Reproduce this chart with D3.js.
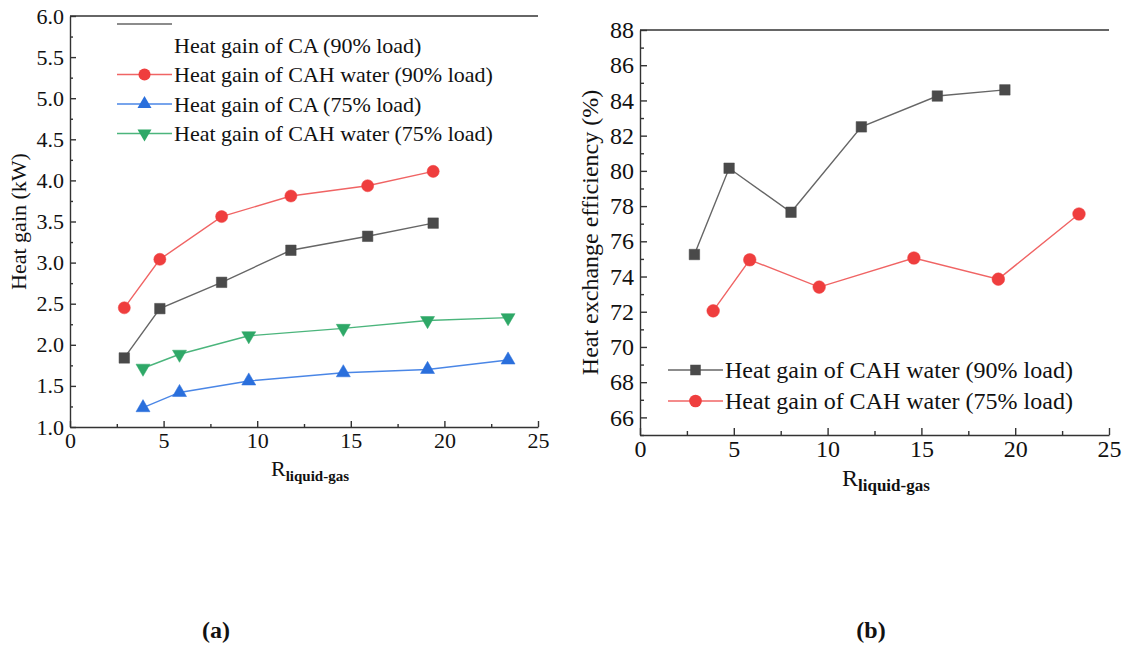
<!DOCTYPE html>
<html>
<head>
<meta charset="utf-8">
<script src="https://cdn.jsdelivr.net/npm/d3@7"></script>
<style>
  body { margin: 0; background: #fff; }
  svg text { font-family: "Liberation Serif", "Tinos", "Times New Roman", "DejaVu Serif", serif !important; fill: #111; }
  .axis path, .axis line { stroke: #333; stroke-width: 1.4; }
</style>
</head>
<body>
<script>
var svgWidth = 1131;
var svgHeight = 645;

// panel (a) data
var xCA90 = [2.9, 4.8, 8.1, 11.8, 15.9, 19.4];
var yCA90 = [1.84, 2.44, 2.76, 3.15, 3.32, 3.48];
var yCAH90 = [2.45, 3.04, 3.56, 3.81, 3.935, 4.11];
var xCA75 = [3.9, 5.85, 9.55, 14.6, 19.1, 23.4];
var yCA75 = [1.235, 1.42, 1.56, 1.66, 1.70, 1.815];
var yCAH75 = [1.715, 1.885, 2.11, 2.20, 2.295, 2.33];

// panel (b) data
var xEff90 = [2.9, 4.75, 8.05, 11.8, 15.85, 19.45];
var yEff90 = [75.25, 80.15, 77.65, 82.5, 84.25, 84.6];
var xEff75 = [3.9, 5.85, 9.55, 14.6, 19.1, 23.4];
var yEff75 = [72.05, 74.95, 73.4, 75.05, 73.85, 77.55];

var xTicks = [0, 5, 10, 15, 20, 25];
var yTicksA = [1.0, 1.5, 2.0, 2.5, 3.0, 3.5, 4.0, 4.5, 5.0, 5.5, 6.0];
var yTicksB = [66, 68, 70, 72, 74, 76, 78, 80, 82, 84, 86, 88];

var legendA = ["Heat gain of CA (90% load)", "Heat gain of CAH water (90% load)",
               "Heat gain of CA (75% load)", "Heat gain of CAH water (75% load)"];
var legendB = ["Heat gain of CAH water (90% load)", "Heat gain of CAH water (75% load)"];

var svg = d3.select("body").append("svg")
  .attr("width", svgWidth)
  .attr("height", svgHeight);

function zip(xs, ys) {
  return xs.map(function(x, i) { return {x: x, y: ys[i]}; });
}

function drawPanel(p) {
  var x = d3.scaleLinear().domain([0, 25]).range([p.left, p.right]);
  var y = d3.scaleLinear().domain(p.yDomain).range([p.bottom, p.top]);

  // minor ticks
  svg.append("g").attr("class", "axis")
    .attr("transform", "translate(0," + p.bottom + ")")
    .call(d3.axisBottom(x).tickValues(d3.range(2.5, 25, 5)).tickSize(-p.minor).tickSizeOuter(0).tickFormat(""))
    .select(".domain").remove();
  svg.append("g").attr("class", "axis")
    .attr("transform", "translate(" + p.left + ",0)")
    .call(d3.axisLeft(y).tickValues(p.yMinor).tickSize(-p.minor).tickSizeOuter(0).tickFormat(""))
    .select(".domain").remove();

  // major axes
  var gx = svg.append("g").attr("class", "axis")
    .attr("transform", "translate(0," + p.bottom + ")")
    .call(d3.axisBottom(x).tickValues(xTicks).tickSize(-p.major).tickSizeOuter(0).tickPadding(5));
  gx.attr("font-family", null);
  gx.selectAll("text").style("font-size", p.fs + "px").attr("fill", "#111");

  var gy = svg.append("g").attr("class", "axis")
    .attr("transform", "translate(" + p.left + ",0)")
    .call(d3.axisLeft(y).tickValues(p.yTicks).tickSize(-p.major).tickSizeOuter(0)
      .tickPadding(6).tickFormat(p.yFormat));
  gy.attr("font-family", null);
  gy.selectAll("text").style("font-size", p.fs + "px").attr("fill", "#111");

  // top frame line
  svg.append("line")
    .attr("x1", p.left).attr("x2", p.right)
    .attr("y1", p.top).attr("y2", p.top)
    .attr("stroke", "#333").attr("stroke-width", 1.4);

  // axis titles
  var xt = svg.append("text")
    .attr("x", p.xTitleX).attr("y", p.xTitleY)
    .style("font-size", p.fs + "px");
  xt.append("tspan").text("R");
  xt.append("tspan").attr("dy", 5).style("font-size", p.subFs + "px")
    .style("font-weight", "bold").text("liquid-gas");

  svg.append("text")
    .attr("transform", "translate(" + p.yTitleX + "," + ((p.top + p.bottom) / 2) + ") rotate(-90)")
    .attr("text-anchor", "middle")
    .style("font-size", p.fs + "px")
    .text(p.yTitle);

  var line = d3.line().x(function(d) { return x(d.x); }).y(function(d) { return y(d.y); });

  p.series.forEach(function(s) {
    var pts = zip(s.xs, s.ys);
    svg.append("path").datum(pts)
      .attr("d", line)
      .attr("fill", "none")
      .attr("stroke", s.line)
      .attr("stroke-width", 1.4);
    svg.append("g").selectAll("path").data(pts).join("path")
      .attr("d", d3.symbol().type(s.sym).size(s.size))
      .attr("transform", function(d) {
        return "translate(" + x(d.x) + "," + y(d.y) + ")" + (s.flip ? " rotate(180)" : "");
      })
      .attr("fill", s.fill)
      .attr("stroke", s.fill).attr("stroke-width", 0.5);
  });

  // legend
  p.series.forEach(function(s, i) {
    var ly = p.legY + i * p.legGap;
    var lineY = (s.legLineY !== undefined) ? s.legLineY : ly;
    svg.append("line")
      .attr("x1", p.legX).attr("x2", p.legX + p.legLen)
      .attr("y1", lineY).attr("y2", lineY)
      .attr("stroke", s.line).attr("stroke-width", 1.4);
    if (!s.noLegMarker) {
      svg.append("path")
        .attr("d", d3.symbol().type(s.sym).size(s.size))
        .attr("transform", "translate(" + (p.legX + p.legLen / 2) + "," + lineY + ")" + (s.flip ? " rotate(180)" : ""))
        .attr("fill", s.fill);
    }
    svg.append("text")
      .attr("x", p.legX + p.legLen + 2).attr("y", ly)
      .attr("dy", "0.35em")
      .style("font-size", p.legFs + "px")
      .text(s.name);
  });

  svg.append("text")
    .attr("x", p.tagX).attr("y", 630)
    .attr("dy", "0.35em")
    .attr("text-anchor", "middle")
    .style("font-size", "24px").style("font-weight", "bold")
    .text(p.tag);
}

var gray = "#4a4a4a", grayLine = "#666", red = "#ef3e3e", redLine = "#f06464",
    blue = "#2a6fdc", blueLine = "#4a86e6", green = "#2ea867", greenLine = "#4bb57c";

drawPanel({
  left: 70, right: 538, top: 16, bottom: 427,
  yDomain: [1, 6], yTicks: yTicksA, yMinor: d3.range(1.25, 6, 0.5),
  yFormat: d3.format(".1f"), major: 6, minor: 3, fs: 22, subFs: 15, legFs: 22,
  xTitleX: 271, xTitleY: 476, yTitleX: 26, yTitle: "Heat gain (kW)",
  legX: 117, legLen: 55, legY: 45, legGap: 29.5, tagX: 216, tag: "(a)",
  series: [
    {name: legendA[0], xs: xCA90, ys: yCA90, sym: d3.symbolSquare, size: 110, fill: gray, line: grayLine, legLineY: 24, noLegMarker: true},
    {name: legendA[1], xs: xCA90, ys: yCAH90, sym: d3.symbolCircle, size: 115, fill: red, line: redLine},
    {name: legendA[2], xs: xCA75, ys: yCA75, sym: d3.symbolTriangle, size: 85, fill: blue, line: blueLine},
    {name: legendA[3], xs: xCA75, ys: yCAH75, sym: d3.symbolTriangle, size: 85, fill: green, line: greenLine, flip: true}
  ]
});

drawPanel({
  left: 640, right: 1109, top: 30, bottom: 435,
  yDomain: [65, 88], yTicks: yTicksB, yMinor: d3.range(65, 88, 2),
  yFormat: d3.format("d"), major: 7, minor: 4, fs: 24, subFs: 17, legFs: 24,
  xTitleX: 842, xTitleY: 486, yTitleX: 598, yTitle: "Heat exchange efficiency (%)",
  legX: 668, legLen: 55, legY: 370, legGap: 31, tagX: 871, tag: "(b)",
  series: [
    {name: legendB[0], xs: xEff90, ys: yEff90, sym: d3.symbolSquare, size: 110, fill: gray, line: grayLine},
    {name: legendB[1], xs: xEff75, ys: yEff75, sym: d3.symbolCircle, size: 125, fill: red, line: redLine}
  ]
});
</script>
</body>
</html>
